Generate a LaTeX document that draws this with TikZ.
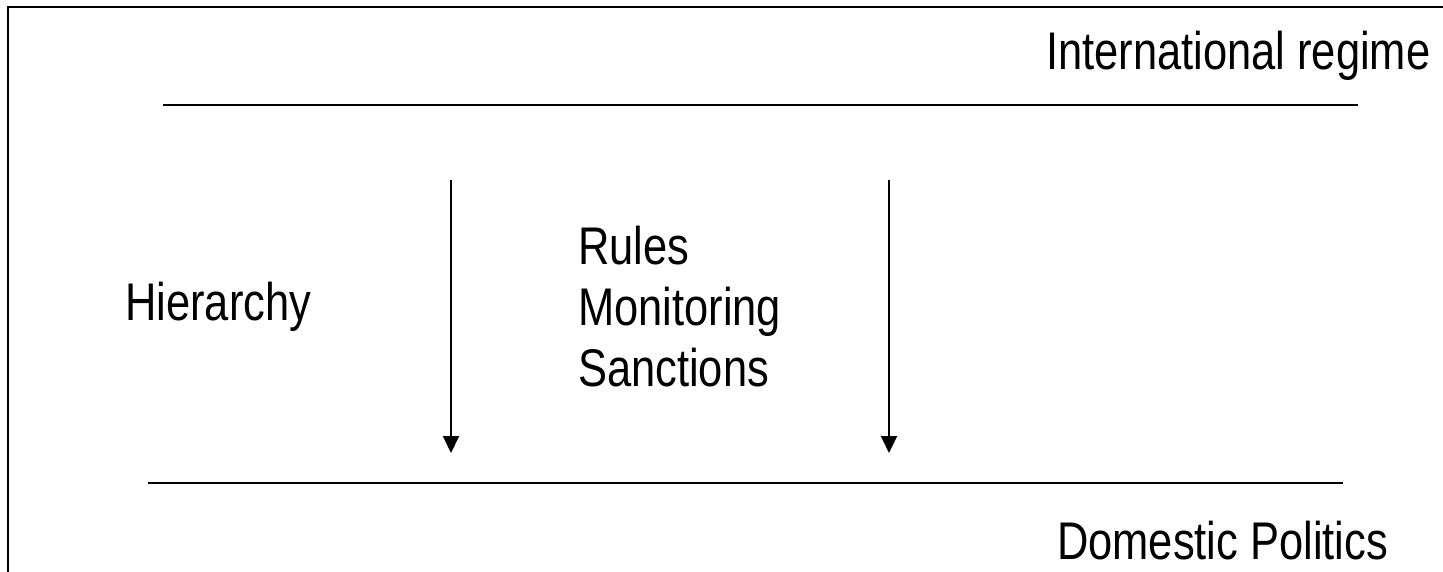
\documentclass[tikz,border=0pt]{standalone}
\usepackage{fontspec}
\setmainfont[FakeStretch=0.82]{Liberation Sans}
\usetikzlibrary{arrows.meta}
\tikzset{
    label-text/.style = {inner sep=0pt, anchor=base west, font=\fontsize{53}{61}\selectfont},
    level-line/.style = {line width=2pt},
    push-arrow/.style = {line width=2pt, -{Triangle[width=16pt,length=17pt]}},
}

\begin{document}
\begin{tikzpicture}[x=1pt, y=-1pt]
\useasboundingbox (0,0) rectangle (1443,572);
% frame
\coordinate (frame-bl) at (8,572);
\coordinate (frame-tl) at (8,7);
\coordinate (frame-tr) at (1443,7);
\draw[level-line] (frame-bl) -- (frame-tl) -- (frame-tr);
% levels
\coordinate (regime-l) at (163,105);
\coordinate (regime-r) at (1358,105);
\coordinate (domestic-l) at (148,483);
\coordinate (domestic-r) at (1343,483);
\draw[level-line] (regime-l) -- (regime-r);
\draw[level-line] (domestic-l) -- (domestic-r);
\node[label-text] (regime) at (1046,70) {International regime};
\node[label-text] (domestic) at (1057,559) {Domestic Politics};
% mechanisms
\node[label-text] (hierarchy) at (125,320) {Hierarchy};
\node[label-text, align=left] (mechanisms) at (578,386) {Rules\\Monitoring\\Sanctions};
\coordinate (left-top) at (451,180);
\coordinate (left-bottom) at (451,453);
\coordinate (right-top) at (889,180);
\coordinate (right-bottom) at (889,453);
\draw[push-arrow] (left-top) -- (left-bottom);
\draw[push-arrow] (right-top) -- (right-bottom);
\end{tikzpicture}
\end{document}
